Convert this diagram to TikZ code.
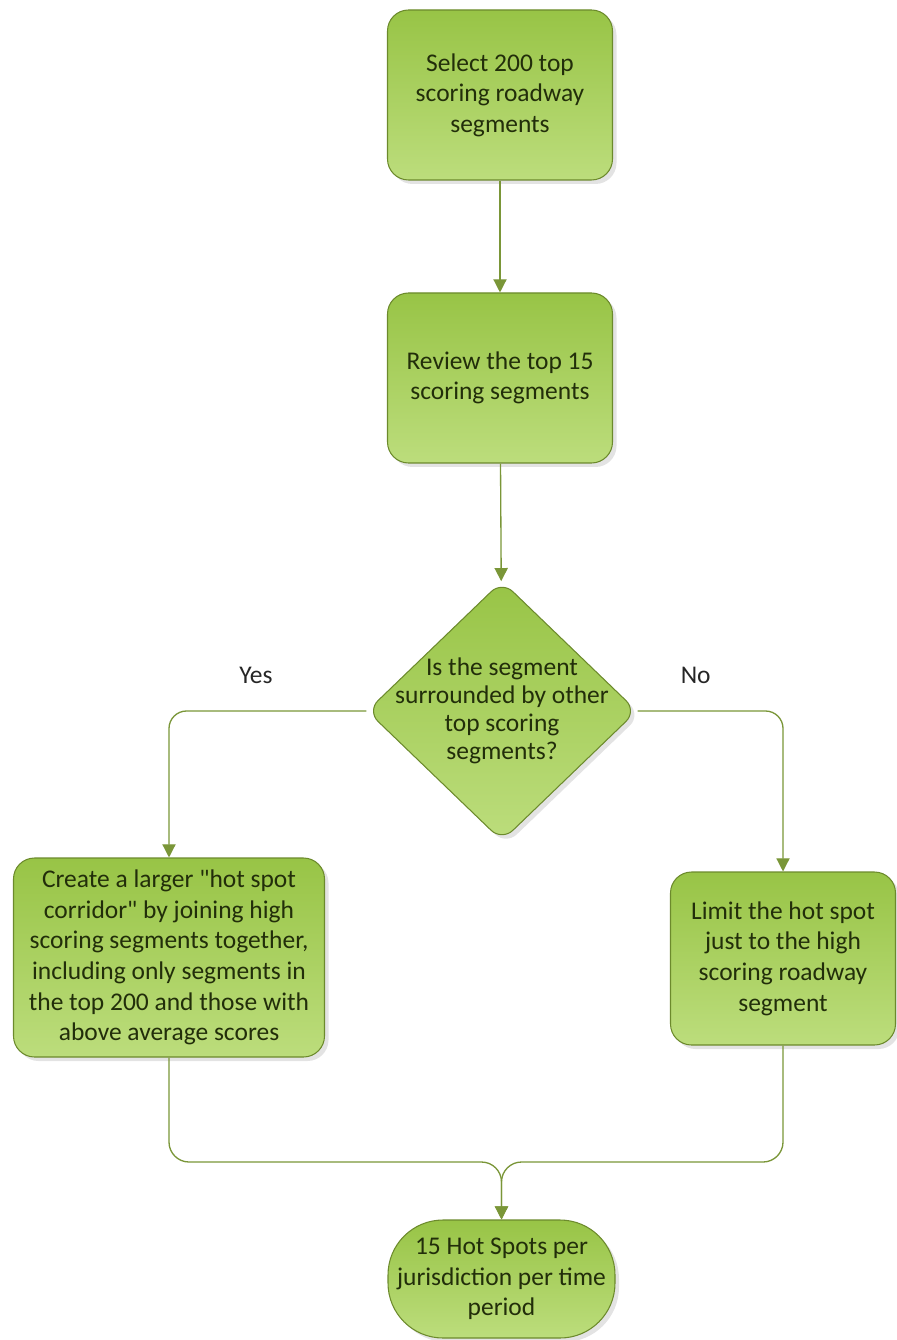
\documentclass[tikz,border=0pt]{standalone}
\usepackage{fontspec}
\setmainfont{Carlito}[Ligatures=TeXOff]
\usepackage{tikz}
\usetikzlibrary{
    arrows.meta,
    shapes.geometric,
    shadows % For the soft shadow under the boxes
}
\definecolor{boxtop}{RGB}{152,196,70}
\definecolor{boxbot}{RGB}{188,221,124}
\definecolor{boxedge}{RGB}{108,138,44}
\definecolor{flowline}{RGB}{122,150,56}
\definecolor{boxtext}{RGB}{34,46,10}
\tikzset{
    greenfill/.style={draw=boxedge, line width=0.6pt, top color=boxtop, bottom color=boxbot,
        drop shadow={opacity=0.22, shadow xshift=0.8mm, shadow yshift=-0.8mm}},
    boxfont/.style={text=boxtext, align=center, font=\fontsize{14.5}{17.4}\selectfont},
    stepbox/.style={greenfill, boxfont, rectangle, rounded corners=0.42cm, inner sep=0pt},
    decision/.style={greenfill, diamond, rounded corners=0.3cm, inner sep=0pt,
        minimum width=5.4cm, minimum height=5.2cm},
    endbox/.style={greenfill, boxfont, rectangle, rounded corners=1.1cm, inner sep=0pt,
        minimum width=4.54cm, minimum height=2.36cm},
    flow/.style={draw=flowline, line width=0.75pt, -{Triangle[length=7.5pt,width=7.5pt]}},
    answer/.style={text=black!85, font=\fontsize{14.5}{17.4}\selectfont}
}

\begin{document}
\begin{tikzpicture}
        \useasboundingbox (0,0) rectangle (17.92,-26.8);

        \draw (10.0,-1.9) node[stepbox, minimum width=4.5cm, minimum height=3.4cm](sel)
            {Select 200 top\\scoring roadway\\segments};
        \draw (10.0,-7.56) node[stepbox, minimum width=4.5cm, minimum height=3.4cm](rev)
            {Review the top 15\\scoring segments};
        \draw (10.04,-14.22) node[decision,
            label={[boxfont, font=\fontsize{14.5}{16}\selectfont]center:{Is the segment\\surrounded by other\\top scoring\\segments?}}](dec){};
        \draw (3.38,-19.15) node[stepbox, minimum width=6.22cm, minimum height=3.98cm](lft)
            {Create a larger "hot spot\\corridor" by joining high\\scoring segments together,\\including only segments in\\the top 200 and those with\\above average scores};
        \draw (15.66,-19.17) node[stepbox, minimum width=4.5cm, minimum height=3.46cm](rgt)
            {Limit the hot spot\\just to the high\\scoring roadway\\segment};
        \draw (10.03,-25.58) node[endbox](fin)
            {15 Hot Spots per\\jurisdiction per time\\period};
        \coordinate (join) at (10.03,-23.24);

        \draw[flow] (sel) to (rev);
        \draw[flow] (rev) to (dec);
        \draw[flow, rounded corners=0.35cm] (dec.west) -| node[answer, pos=0.28, yshift=0.72cm]{Yes} (lft.north);
        \draw[flow, rounded corners=0.35cm] (dec.east) -| node[answer, pos=0.2, yshift=0.72cm]{No} (rgt.north);
        \draw[flow, rounded corners=0.4cm] (lft.south) |- (join) -- (fin.north);
        \draw[flow, rounded corners=0.4cm] (rgt.south) |- (join) -- (fin.north);
    \end{tikzpicture}
\end{document}
